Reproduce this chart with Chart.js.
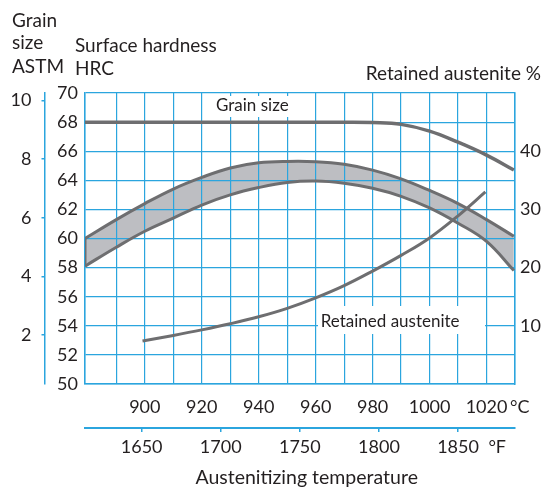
<!DOCTYPE html>
<html>
<head>
<meta charset="utf-8">
<script src="https://cdn.jsdelivr.net/npm/chart.js@4/dist/chart.umd.min.js"></script>
<style>
  html, body { margin: 0; padding: 0; background: #fff; }
  canvas { display: block; background: #fff; }
</style>
</head>
<body>
<canvas id="chart" width="550" height="488"></canvas>
<script>
// austenitizing temperature, °C
const bandTemps = [879, 890, 900, 910, 920, 930, 940, 950, 960, 970, 980, 990, 1000, 1010, 1020, 1029.6];
const hardnessUpper = [60.0, 61.3, 62.4, 63.4, 64.2, 64.85, 65.2, 65.3, 65.28, 65.1, 64.7, 64.1, 63.3, 62.4, 61.3, 60.15];
const hardnessLower = [58.1, 59.4, 60.5, 61.4, 62.3, 63.0, 63.5, 63.85, 63.95, 63.8, 63.45, 62.9, 62.1, 61.05, 59.8, 57.8];

const grainTemps = [879, 930, 970, 980, 990, 1000, 1010, 1020, 1029.6];
const grainSize = [9.26, 9.26, 9.26, 9.25, 9.19, 8.96, 8.58, 8.14, 7.63];

const austeniteTemps = [899.2, 910, 920, 930, 940, 950, 960, 970, 980, 990, 1000, 1010, 1019.6];
const austenite = [7.4, 8.35, 9.3, 10.35, 11.55, 13.0, 14.8, 16.9, 19.4, 22.1, 25.1, 28.9, 33.0];

const xGridTicks = [879, 890, 900, 910, 920, 930, 940, 950, 960, 970, 980, 990, 1000, 1010, 1020, 1030];
const celsiusLabels = [900, 920, 940, 960, 980, 1000, 1020];
const fahrenheitTicks = [1650, 1700, 1750, 1800, 1850];
const grainTicks = [2, 4, 6, 8, 10];
const austeniteTicks = [10, 20, 30, 40];

const GRID = '#2ba5de';
const LINE = '#6e6e70';
const FILL = '#bdbec2';
const TEXT = '#231f20';
const FONT = 'Lato';

const toF = c => c * 9 / 5 + 32;
const pts = (xs, ys) => xs.map((x, i) => ({ x: x, y: ys[i] }));

const textPlugin = {
  id: 'texts',
  beforeDatasetsDraw(chart) {
    const ctx = chart.ctx;
    ctx.save();
    ctx.fillStyle = '#fff';
    ctx.fillRect(204, 96, 93, 21);
    ctx.fillRect(318, 306, 167, 28);
    ctx.fillStyle = TEXT;
    ctx.font = '17px ' + FONT;
    ctx.textBaseline = 'alphabetic';
    ctx.textAlign = 'left';
    ctx.fillText('Grain size', 216, 110.7);
    ctx.fillText('Retained austenite', 320.7, 326.7);
    ctx.restore();
  },
  afterDraw(chart) {
    const ctx = chart.ctx;
    ctx.save();
    ctx.fillStyle = TEXT;
    ctx.font = '19px ' + FONT;
    ctx.textBaseline = 'alphabetic';
    ctx.textAlign = 'left';
    ctx.fillText('Grain', 12, 26.7);
    ctx.fillText('size', 12, 49.3);
    ctx.fillText('ASTM', 12, 73.3);
    ctx.fillText('Surface hardness', 75, 52);
    ctx.fillText('HRC', 75, 75);
    ctx.font = '18px ' + FONT;
    ctx.fillText('°C', 510, 413.3);
    ctx.fillText('°F', 488.4, 453.3);
    ctx.font = '19px ' + FONT;
    ctx.textAlign = 'right';
    ctx.fillText('Retained austenite %', 541, 80);
    ctx.font = '19.5px ' + FONT;
    ctx.textAlign = 'center';
    ctx.fillText('Austenitizing temperature', 306.7, 484.3);
    ctx.restore();
  }
};

const tickFont = { family: FONT, size: 18 };
const line = (data, extra) => Object.assign({
  data: data,
  showLine: true,
  pointRadius: 0,
  borderColor: LINE,
  borderWidth: 3,
  borderJoinStyle: 'round',
  tension: 0.4,
  fill: false,
  xAxisID: 'x',
  yAxisID: 'y'
}, extra);

new Chart(document.getElementById('chart'), {
  type: 'scatter',
  data: {
    datasets: [
      line(pts(bandTemps, hardnessUpper), { fill: '+1', backgroundColor: FILL }),
      line(pts(bandTemps, hardnessLower)),
      line(pts([bandTemps[0], bandTemps[0]], [hardnessLower[0], hardnessUpper[0]]), { tension: 0 }),
      line(pts(grainTemps, grainSize), { yAxisID: 'yGrain', borderWidth: 3.5 }),
      line(pts(austeniteTemps, austenite), { yAxisID: 'yAus' })
    ]
  },
  options: {
    responsive: false,
    animation: false,
    layout: { padding: { top: 93, left: 0, right: 0, bottom: 0 } },
    plugins: {
      legend: { display: false },
      tooltip: { enabled: false },
      filler: { propagate: false, drawTime: 'beforeDraw' }
    },
    scales: {
      x: {
        type: 'linear', position: 'bottom', weight: 0,
        min: 879, max: 1030,
        afterBuildTicks: s => { s.ticks = xGridTicks.map(v => ({ value: v })); },
        afterFit: s => { s.height = 44; },
        grid: { color: GRID, lineWidth: 1.2, drawTicks: false },
        border: { color: GRID, width: 1.5 },
        ticks: {
          autoSkip: false, maxRotation: 0, padding: 12, color: TEXT, font: tickFont,
          callback: v => celsiusLabels.includes(v) ? String(v) : ''
        }
      },
      xF: {
        type: 'linear', position: 'bottom', weight: 1,
        min: toF(879), max: toF(1030),
        afterBuildTicks: s => { s.ticks = fahrenheitTicks.map(v => ({ value: v })); },
        afterFit: s => { s.height = 60; },
        grid: { drawOnChartArea: false, color: GRID, lineWidth: 1.5, tickLength: 4 },
        border: { color: GRID, width: 2 },
        ticks: { autoSkip: false, maxRotation: 0, padding: 4, color: TEXT, font: tickFont, callback: v => String(v) }
      },
      yGrain: {
        type: 'linear', position: 'left', weight: 1,
        min: 0.33, max: 10.26,
        afterBuildTicks: s => { s.ticks = grainTicks.map(v => ({ value: v })); },
        afterFit: s => { s.width = 45; },
        grid: { drawOnChartArea: false, color: GRID, lineWidth: 1.5, tickLength: 3.5 },
        border: { color: GRID, width: 1.5 },
        ticks: { padding: 10, color: TEXT, font: tickFont, callback: v => String(v) }
      },
      y: {
        type: 'linear', position: 'left', weight: 0,
        min: 50, max: 70,
        afterFit: s => { s.width = 40; },
        grid: { color: GRID, lineWidth: 1.2, drawTicks: false },
        border: { color: GRID, width: 1.5 },
        ticks: { stepSize: 2, padding: 7, color: TEXT, font: tickFont }
      },
      yAus: {
        type: 'linear', position: 'right',
        min: 0, max: 50,
        afterBuildTicks: s => { s.ticks = austeniteTicks.map(v => ({ value: v })); },
        afterFit: s => { s.width = 35; },
        grid: { drawOnChartArea: false, drawTicks: false },
        border: { color: GRID, width: 1.5 },
        ticks: { padding: 5, color: TEXT, font: tickFont, callback: v => String(v) }
      }
    }
  },
  plugins: [textPlugin]
});
</script>
</body>
</html>
